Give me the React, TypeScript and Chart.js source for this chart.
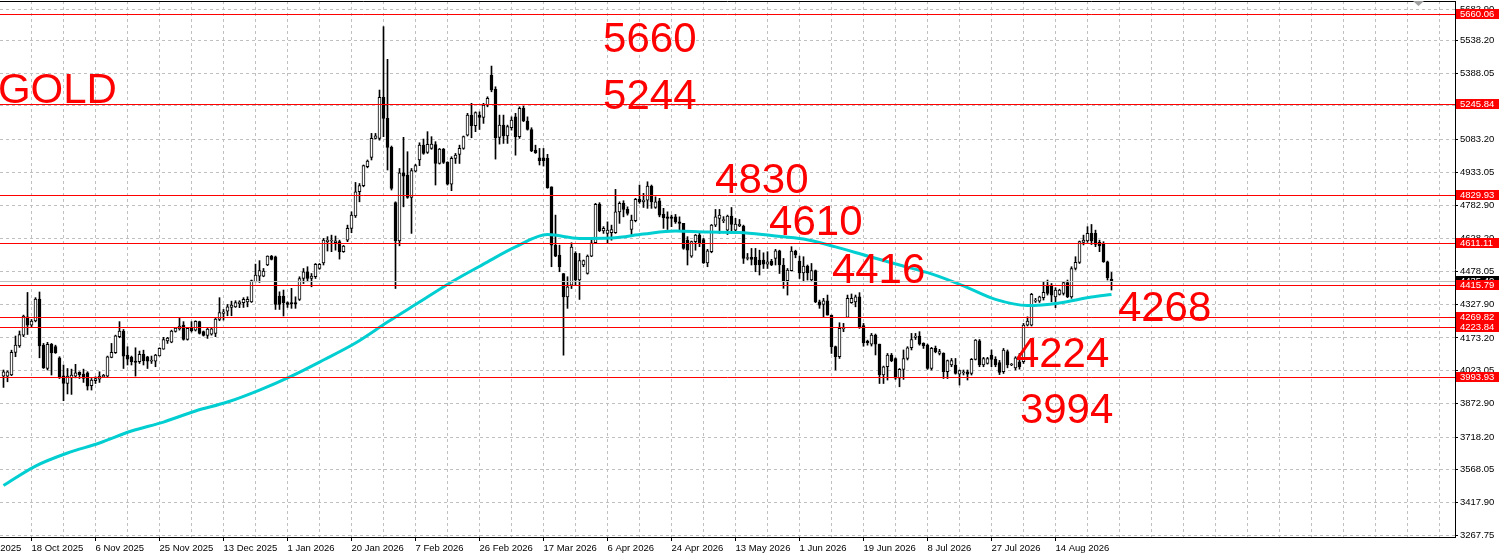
import React, { useEffect, useRef } from 'react';
import { Chart, registerables } from 'chart.js';

Chart.register(...registerables);

// ---- candle data (one entry per bar) ----
const opens = [
  3998, 3998, 4003, 4107, 4136, 4186, 4270, 4232, 4251, 4352,
  4140, 4033, 4144, 4133, 4082, 3999, 3964, 3990, 3998, 4015,
  4007, 4013, 3954, 3977, 3984, 3995, 3998, 4084, 4105, 4179,
  4205, 4093, 4085, 4067, 4064, 4098, 4087, 4067, 4067, 4091,
  4122, 4160, 4154, 4203, 4215, 4232, 4166, 4218, 4209, 4248,
  4202, 4185, 4191, 4194, 4258, 4286, 4296, 4313, 4316, 4329,
  4335, 4338, 4339, 4431, 4457, 4457, 4508, 4549, 4546, 4365,
  4365, 4336, 4336, 4336, 4350, 4446, 4477, 4446, 4454, 4492,
  4518, 4615, 4618, 4610, 4615, 4569, 4622, 4676, 4733, 4844,
  4872, 4959, 5002, 5089, 5089, 5277, 5181, 5048, 4794, 4619,
  4931, 4921, 4818, 4939, 4990, 5058, 5025, 5043, 5061, 4974,
  5040, 4979, 4879, 4997, 5016, 5043, 5104, 5196, 5147, 5196,
  5185, 5242, 5380, 5314, 5094, 5150, 5100, 5138, 5188, 5097,
  5227, 5169, 5130, 5035, 5000, 5000, 4997, 4867, 4599, 4553,
  4469, 4362, 4415, 4561, 4439, 4508, 4469, 4549, 4610, 4788,
  4664, 4653, 4656, 4656, 4752, 4791, 4763, 4671, 4711, 4809,
  4798, 4806, 4870, 4772, 4803, 4740, 4729, 4729, 4729, 4706,
  4699, 4622, 4549, 4615, 4645, 4625, 4518, 4569, 4691, 4722,
  4711, 4668, 4733, 4668, 4687, 4687, 4538, 4543, 4543, 4531,
  4531, 4512, 4526, 4538, 4573, 4508, 4436, 4482, 4572, 4526,
  4472, 4503, 4439, 4482, 4339, 4327, 4344, 4278, 4133, 4087,
  4214, 4267, 4335, 4339, 4362, 4230, 4159, 4145, 4186, 4145,
  4003, 4041, 4095, 4079, 3988, 4029, 4079, 4128, 4176, 4182,
  4148, 4140, 4033, 4125, 4102, 4102, 4018, 4049, 4049, 4007,
  4013, 4018, 4010, 4075, 4160, 4049, 4056, 4095, 4075, 4060,
  4018, 4110, 4049, 4036, 4064, 4064, 4232, 4232, 4342, 4342,
  4358, 4416, 4416, 4362, 4373, 4378, 4427, 4362, 4492, 4520,
  4612, 4618, 4653, 4653, 4612, 4607, 4523, 4443
];
const highs = [
  4026, 4022, 4117, 4182, 4205, 4278, 4382, 4258, 4358, 4384,
  4148, 4153, 4148, 4140, 4087, 4049, 4033, 4030, 4052, 4018,
  4030, 4018, 3987, 3995, 4018, 4006, 4090, 4148, 4186, 4248,
  4212, 4133, 4090, 4128, 4113, 4117, 4089, 4090, 4098, 4128,
  4176, 4176, 4209, 4221, 4263, 4248, 4220, 4248, 4252, 4250,
  4205, 4217, 4217, 4263, 4358, 4304, 4327, 4342, 4344, 4344,
  4358, 4362, 4439, 4512, 4528, 4492, 4550, 4552, 4549, 4385,
  4393, 4339, 4401, 4362, 4454, 4492, 4500, 4469, 4515, 4515,
  4630, 4638, 4645, 4641, 4622, 4598, 4691, 4752, 4887, 4882,
  4967, 4990, 5112, 5112, 5311, 5602, 5452, 5054, 4798, 4951,
  5094, 5028, 4951, 4970, 5069, 5086, 5120, 5097, 5074, 5043,
  5043, 4982, 5005, 5020, 5058, 5100, 5204, 5250, 5211, 5211,
  5250, 5280, 5421, 5326, 5196, 5196, 5150, 5188, 5204, 5234,
  5237, 5188, 5138, 5058, 5043, 5043, 5016, 4867, 4737, 4599,
  4469, 4454, 4610, 4569, 4561, 4531, 4554, 4622, 4791, 4794,
  4684, 4706, 4691, 4855, 4798, 4803, 4775, 4737, 4814, 4875,
  4837, 4890, 4875, 4821, 4814, 4768, 4752, 4737, 4740, 4729,
  4699, 4638, 4618, 4648, 4653, 4630, 4580, 4694, 4763, 4763,
  4730, 4737, 4772, 4722, 4717, 4691, 4561, 4584, 4584, 4576,
  4564, 4569, 4534, 4580, 4576, 4538, 4492, 4592, 4576, 4549,
  4546, 4508, 4515, 4485, 4347, 4355, 4370, 4278, 4136, 4243,
  4240, 4370, 4375, 4370, 4381, 4240, 4163, 4194, 4191, 4145,
  4044, 4102, 4102, 4082, 4033, 4118, 4133, 4194, 4194, 4202,
  4151, 4145, 4130, 4136, 4121, 4105, 4072, 4079, 4079, 4026,
  4026, 4026, 4079, 4166, 4166, 4084, 4084, 4118, 4087, 4070,
  4125, 4118, 4056, 4087, 4102, 4240, 4270, 4378, 4355, 4365,
  4431, 4439, 4423, 4404, 4397, 4431, 4439, 4500, 4546, 4618,
  4645, 4684, 4694, 4668, 4622, 4615, 4526, 4474
];
const lows = [
  3946, 3972, 4000, 4087, 4130, 4179, 4189, 4221, 4247, 4082,
  4033, 4026, 4003, 4102, 3987, 3885, 3916, 3914, 3990, 3987,
  3969, 3934, 3934, 3964, 3969, 3992, 3995, 4082, 4102, 4174,
  4033, 4049, 4049, 3998, 4056, 4049, 4033, 4056, 4041, 4090,
  4121, 4148, 4151, 4200, 4209, 4163, 4163, 4200, 4205, 4191,
  4182, 4171, 4186, 4179, 4252, 4255, 4275, 4275, 4313, 4312,
  4313, 4316, 4336, 4430, 4428, 4454, 4505, 4531, 4304, 4304,
  4274, 4313, 4309, 4309, 4345, 4423, 4431, 4408, 4446, 4488,
  4508, 4572, 4569, 4576, 4535, 4566, 4615, 4656, 4726, 4798,
  4867, 4954, 4990, 5086, 5081, 5097, 4944, 4852, 4400, 4596,
  4775, 4814, 4653, 4936, 4964, 5016, 5020, 5039, 4875, 4971,
  4974, 4875, 4849, 4974, 4974, 5039, 5100, 5092, 5120, 5130,
  5158, 5234, 5303, 4994, 5063, 5066, 5066, 5127, 5012, 5089,
  5166, 5127, 5028, 5020, 4967, 4962, 4860, 4500, 4546, 4477,
  4094, 4309, 4400, 4416, 4350, 4500, 4466, 4546, 4607, 4661,
  4653, 4607, 4622, 4653, 4699, 4729, 4737, 4645, 4706, 4791,
  4772, 4768, 4768, 4768, 4729, 4676, 4671, 4684, 4699, 4668,
  4580, 4508, 4543, 4576, 4592, 4515, 4500, 4564, 4684, 4653,
  4702, 4648, 4653, 4661, 4684, 4515, 4531, 4508, 4477, 4462,
  4492, 4492, 4505, 4508, 4469, 4401, 4370, 4480, 4541, 4446,
  4431, 4439, 4431, 4335, 4309, 4270, 4278, 4102, 4026, 4079,
  4202, 4267, 4332, 4316, 4217, 4135, 4140, 4136, 4095, 3964,
  3964, 3980, 4064, 3983, 3949, 3983, 4072, 4118, 4166, 4140,
  4125, 4029, 4026, 4105, 4095, 3987, 3987, 4041, 4007, 3957,
  4003, 3980, 4003, 4072, 4041, 4041, 4053, 4041, 4041, 4005,
  4010, 4036, 4046, 4026, 4030, 4056, 4228, 4228, 4336, 4336,
  4347, 4370, 4339, 4312, 4370, 4370, 4358, 4355, 4485, 4515,
  4600, 4612, 4602, 4592, 4569, 4520, 4439, 4393
];
const closes = [
  4018, 4018, 4107, 4140, 4189, 4274, 4232, 4251, 4352, 4137,
  4036, 4144, 4105, 4105, 3990, 3964, 3998, 4003, 4013, 4003,
  3987, 3952, 3980, 3987, 3998, 4001, 4087, 4107, 4183, 4205,
  4090, 4076, 4064, 4061, 4098, 4069, 4067, 4072, 4095, 4125,
  4166, 4173, 4205, 4218, 4228, 4166, 4217, 4206, 4249, 4194,
  4185, 4214, 4215, 4260, 4290, 4293, 4316, 4324, 4335, 4339,
  4350, 4350, 4436, 4462, 4482, 4480, 4549, 4534, 4327, 4327,
  4335, 4327, 4329, 4329, 4446, 4477, 4446, 4457, 4511, 4511,
  4622, 4622, 4622, 4619, 4569, 4595, 4676, 4737, 4844, 4872,
  4964, 4985, 5089, 5101, 5277, 5181, 5048, 4860, 4619, 4931,
  4916, 4818, 4941, 4964, 5058, 5020, 5062, 5063, 4974, 5040,
  4979, 4879, 4997, 5013, 5043, 5097, 5196, 5147, 5207, 5185,
  5242, 5273, 5311, 5092, 5150, 5100, 5143, 5173, 5097, 5227,
  5169, 5130, 5032, 5023, 4987, 4987, 4863, 4599, 4549, 4500,
  4362, 4408, 4590, 4439, 4528, 4528, 4549, 4610, 4786, 4665,
  4676, 4668, 4671, 4752, 4791, 4763, 4745, 4714, 4809, 4798,
  4806, 4870, 4798, 4798, 4737, 4725, 4722, 4722, 4706, 4699,
  4584, 4576, 4615, 4645, 4610, 4518, 4573, 4691, 4729, 4737,
  4717, 4733, 4694, 4696, 4696, 4538, 4540, 4534, 4508, 4508,
  4512, 4523, 4508, 4573, 4508, 4436, 4485, 4572, 4554, 4472,
  4503, 4472, 4482, 4339, 4324, 4344, 4278, 4133, 4087, 4217,
  4217, 4355, 4355, 4362, 4225, 4150, 4151, 4186, 4145, 4003,
  4041, 4095, 4069, 3988, 4029, 4079, 4128, 4166, 4182, 4145,
  4136, 4033, 4125, 4110, 4110, 4018, 4069, 4069, 4010, 4023,
  4018, 4007, 4075, 4163, 4049, 4079, 4079, 4075, 4049, 4015,
  4118, 4049, 4052, 4082, 4041, 4232, 4251, 4373, 4345, 4362,
  4382, 4378, 4370, 4393, 4393, 4427, 4362, 4492, 4520, 4615,
  4622, 4653, 4618, 4602, 4596, 4523, 4450, 4435
];

// ---- moving average (read at every 8th bar) ----
const maBars = [0, 8, 16, 24, 32, 40, 48, 56, 64, 72, 80, 88, 96, 104, 112, 120, 128, 136,
  144, 152, 160, 168, 176, 184, 192, 200, 208, 216, 224, 232, 240, 248, 256, 264, 272, 277];
const maValues = [3496, 3585, 3645, 3691, 3746, 3787, 3838, 3879, 3934, 3998, 4072, 4150, 4246, 4338,
  4430, 4512, 4591, 4648, 4630, 4632, 4650, 4664, 4659, 4657, 4643, 4627, 4591, 4549, 4508, 4467,
  4412, 4350, 4322, 4334, 4361, 4373];

// ---- horizontal levels ----
const levelPrices = [5660.06, 5245.84, 4829.93, 4611.11, 4415.79, 4269.82, 4223.84, 3993.93];
const bidPrice = 4435.49;

// ---- axis ticks ----
const yTickValues = [3267.75, 3417.90, 3568.05, 3718.20, 3872.90, 4023.05, 4173.20, 4327.90, 4478.05,
  4628.20, 4782.90, 4933.05, 5083.20, 5237.90, 5388.05, 5538.20, 5682.90];
const dateTickBars = [-9, 7, 23, 39, 55, 71, 87, 103, 119, 135, 151, 167, 183, 199, 215, 231, 247, 263];
const dateLabels = ['29 Sep 2025', '18 Oct 2025', '6 Nov 2025', '25 Nov 2025', '13 Dec 2025', '1 Jan 2026',
  '20 Jan 2026', '7 Feb 2026', '26 Feb 2026', '17 Mar 2026', '6 Apr 2026', '24 Apr 2026', '13 May 2026',
  '1 Jun 2026', '19 Jun 2026', '8 Jul 2026', '27 Jul 2026', '14 Aug 2026'];

// ---- annotations ----
const annotTexts = ['GOLD', '5660', '5244', '4830', '4610', '4416', '4268', '4224', '3994'];
const annotBars = [-1.4, 149.9, 149.9, 177.9, 191.4, 207.1, 278.6, 253.1, 254.1];
const annotPrices = [5252, 5485, 5224, 4838, 4645, 4425, 4251, 4039, 3782];

const FONT = '"Liberation Sans", Arial, sans-serif';

const overlayPlugin = {
  id: 'mtOverlay',
  afterDatasetsDraw(chart: any) {
    const { ctx, chartArea: a, scales } = chart;
    const xs = scales.x;
    const ys = scales.y;
    ctx.save();
    ctx.beginPath();
    ctx.rect(a.left, a.top, a.right - a.left, a.bottom - a.top);
    ctx.clip();
    ctx.lineWidth = 1;
    const hline = (price: number, color: string) => {
      const py = Math.round(ys.getPixelForValue(price)) + 0.5;
      ctx.strokeStyle = color;
      ctx.beginPath();
      ctx.moveTo(a.left, py);
      ctx.lineTo(a.right, py);
      ctx.stroke();
    };
    hline(bidPrice, '#c0c0c0');
    levelPrices.forEach((p) => hline(p, '#ff0000'));
    ctx.fillStyle = '#ff0000';
    ctx.font = `42px ${FONT}`;
    ctx.textBaseline = 'alphabetic';
    ctx.textAlign = 'left';
    annotTexts.forEach((t, i) => {
      ctx.fillText(t, xs.getPixelForValue(annotBars[i]), ys.getPixelForValue(annotPrices[i]));
    });
    ctx.restore();
  },
  afterDraw(chart: any) {
    const { ctx, chartArea: a, scales } = chart;
    const ys = scales.y;
    ctx.save();
    ctx.strokeStyle = '#000';
    ctx.lineWidth = 1;
    ctx.beginPath();
    ctx.moveTo(a.left, a.top + 0.5);
    ctx.lineTo(a.right, a.top + 0.5);
    ctx.stroke();
    ctx.fillStyle = '#a0a0a0';
    ctx.beginPath();
    ctx.moveTo(a.right - 42, a.top);
    ctx.lineTo(a.right - 31, a.top);
    ctx.lineTo(a.right - 36.5, a.top + 5);
    ctx.closePath();
    ctx.fill();
    const box = (price: number, bg: string) => {
      const py = Math.round(ys.getPixelForValue(price));
      ctx.fillStyle = bg;
      ctx.fillRect(a.right + 1, py - 5, 43, 10);
      ctx.fillStyle = '#ffffff';
      ctx.font = `9.5px ${FONT}`;
      ctx.textBaseline = 'middle';
      ctx.textAlign = 'left';
      ctx.fillText(price.toFixed(2), a.right + 5, py + 0.5);
    };
    box(bidPrice, '#000000');
    levelPrices.forEach((p) => box(p, '#ff0000'));
    ctx.restore();
  },
};

export default function App() {
  const ref = useRef<HTMLCanvasElement>(null);

  useEffect(() => {
    const canvas = ref.current;
    if (!canvas) return;
    const wickData = opens.map((_, i) => ({ x: i, y: [lows[i], highs[i]] }));
    const bodyData = opens.map((o, i) => ({ x: i, y: [Math.min(o, closes[i]), Math.max(o, closes[i])] }));
    const bodyColors = opens.map((o, i) => (closes[i] >= o ? '#ffffff' : '#000000'));
    const maData = maBars.map((b, i) => ({ x: b, y: maValues[i] }));

    const chart = new Chart(canvas, {
      type: 'bar',
      data: {
        datasets: [
          {
            type: 'bar',
            data: wickData as any,
            backgroundColor: '#000000',
            borderWidth: 0,
            barThickness: 1,
            grouped: false,
            order: 3,
          } as any,
          {
            type: 'bar',
            data: bodyData as any,
            backgroundColor: bodyColors,
            borderColor: '#000000',
            borderWidth: 1,
            borderSkipped: false,
            barThickness: 3,
            minBarLength: 1,
            grouped: false,
            order: 2,
          } as any,
          {
            type: 'line',
            data: maData as any,
            borderColor: '#00CED1',
            borderWidth: 3,
            pointRadius: 0,
            cubicInterpolationMode: 'monotone',
            fill: false,
            order: 1,
          } as any,
        ],
      },
      options: {
        responsive: false,
        animation: false,
        devicePixelRatio: 1,
        events: [],
        layout: { padding: { top: 1, left: 0, right: 0, bottom: 0 } },
        plugins: { legend: { display: false }, tooltip: { enabled: false } },
        font: { family: FONT },
        scales: {
          x: {
            type: 'linear',
            min: -0.875,
            max: 362.875,
            offset: false,
            grid: {
              color: '#c0c0c0',
              lineWidth: 1,
              offset: false,
              drawTicks: true,
              tickLength: 4,
              tickColor: (c: any) =>
                c.tick && dateTickBars.includes(c.tick.value) ? '#000000' : 'rgba(0,0,0,0)',
              tickBorderDash: [],
            },
            border: { display: true, color: '#000000', width: 1, dash: [3, 3] },
            ticks: {
              autoSkip: false,
              maxRotation: 0,
              minRotation: 0,
              align: 'start',
              padding: 2,
              color: '#000000',
              font: { family: FONT, size: 9.5 },
              callback: (v: any) => {
                const k = dateTickBars.indexOf(Number(v));
                return k >= 0 ? dateLabels[k] : '';
              },
            },
            afterBuildTicks: (scale: any) => {
              const t: any[] = [{ value: dateTickBars[0] }];
              for (let v = 7; v <= 359; v += 8) t.push({ value: v });
              scale.ticks = t;
            },
            afterFit: (scale: any) => {
              scale.height = 23;
              scale.paddingLeft = 0;
              scale.paddingRight = 0;
            },
          } as any,
          y: {
            type: 'linear',
            position: 'right',
            min: 3259.5,
            max: 5719.7,
            beginAtZero: false,
            grid: {
              color: '#c0c0c0',
              lineWidth: 1,
              drawTicks: true,
              tickLength: 3,
              tickColor: '#000000',
              tickBorderDash: [],
            },
            border: { display: true, color: '#000000', width: 1, dash: [3, 3] },
            ticks: {
              padding: 2,
              color: '#000000',
              font: { family: FONT, size: 9.5 },
              callback: (v: any) => Number(v).toFixed(2),
            },
            afterBuildTicks: (scale: any) => {
              scale.ticks = yTickValues.map((v) => ({ value: v }));
            },
            afterFit: (scale: any) => {
              scale.width = 47;
              scale.paddingTop = 0;
              scale.paddingBottom = 0;
            },
          } as any,
        },
      } as any,
      plugins: [overlayPlugin as any],
    });
    return () => chart.destroy();
  }, []);

  return (
    <div style={{ position: 'absolute', left: 0, top: 0, width: 1502, height: 560, background: '#ffffff' }}>
      <canvas ref={ref} width={1502} height={560} style={{ display: 'block', width: 1502, height: 560 }} />
    </div>
  );
}
